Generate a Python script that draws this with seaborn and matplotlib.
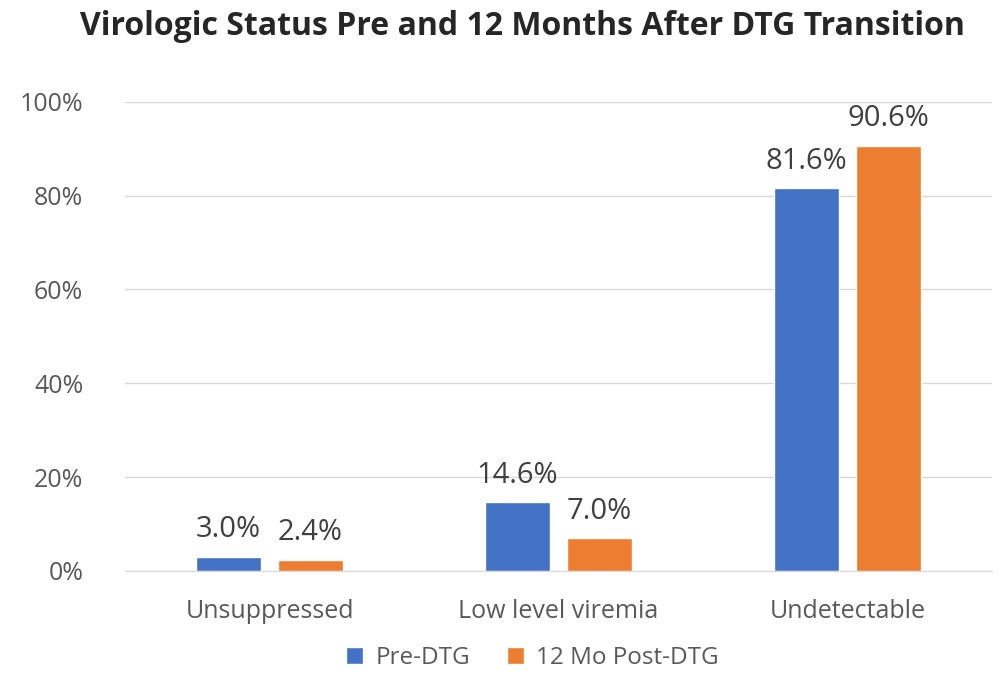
import matplotlib
matplotlib.use("Agg")
import matplotlib.pyplot as plt
import seaborn as sns
import pandas as pd
from matplotlib.ticker import FuncFormatter

categories = ["Unsuppressed", "Low level viremia", "Undetectable"]
series_names = ["Pre-DTG", "12 Mo Post-DTG"]
pre_dtg = [3.0, 14.6, 81.6]
post_dtg = [2.4, 7.0, 90.6]
colors = ["#4472C4", "#ED7D31"]

df = pd.DataFrame({
    "category": categories * 2,
    "group": [series_names[0]] * 3 + [series_names[1]] * 3,
    "value": pre_dtg + post_dtg,
})

sns.set_style("white")
plt.rcParams["font.family"] = ["Open Sans", "DejaVu Sans"]

fig = plt.figure(figsize=(10, 6.83), dpi=100)
ax = fig.add_axes([0.125, 0.164, 0.867, 0.687])

sns.barplot(data=df, x="category", y="value", hue="group", palette=colors,
            width=0.567, gap=0.207, saturation=1, ax=ax, legend=True)

ax.set_ylim(0, 100)
ax.set_yticks(range(0, 101, 20))
ax.yaxis.set_major_formatter(FuncFormatter(lambda v, p: f"{v:.0f}%"))
ax.grid(axis="y", color="#D9D9D9", linewidth=1)
ax.set_axisbelow(True)
for s in ["top", "right", "left"]:
    ax.spines[s].set_visible(False)
ax.spines["bottom"].set_color("#D9D9D9")
ax.tick_params(axis="both", length=0, labelsize=18, colors="#595959")
ax.tick_params(axis="x", pad=20)
ax.tick_params(axis="y", pad=30)
ax.set_xlabel("")
ax.set_ylabel("")

for cont in ax.containers:
    ax.bar_label(cont, fmt="%.1f%%", fontsize=21, color="#404040", padding=9)

fig.suptitle("Virologic Status Pre and 12 Months After DTG Transition",
             fontsize=23, fontweight="bold", y=0.985, x=0.522)

ax.legend(loc="upper center", bbox_to_anchor=(0.47, -0.128), ncol=2, frameon=False,
          fontsize=17.5, handlelength=0.7, handleheight=0.7, columnspacing=1.5,
          handletextpad=0.5, labelcolor="#595959", borderaxespad=0.2)

fig.savefig("out.png", dpi=100)
